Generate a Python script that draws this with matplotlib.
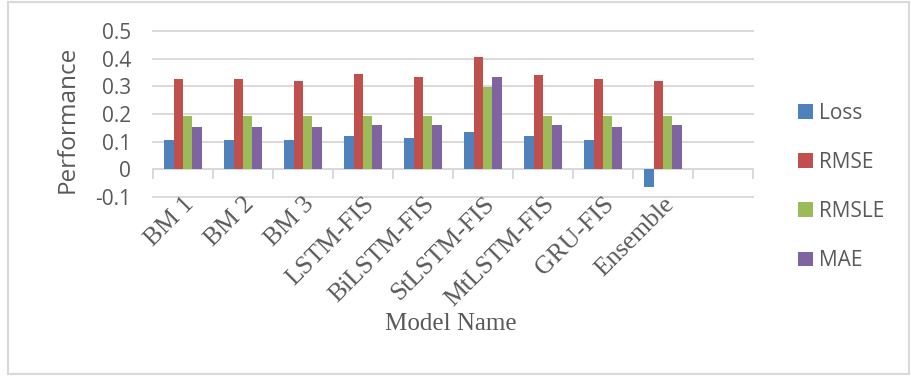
import numpy as np
import matplotlib
matplotlib.use("Agg")
import matplotlib.pyplot as plt
from matplotlib.patches import Rectangle

models = ["BM 1", "BM 2", "BM 3", "LSTM-FIS", "BiLSTM-FIS", "StLSTM-FIS",
          "MtLSTM-FIS", "GRU-FIS", "Ensemble"]
loss = [0.105, 0.105, 0.105, 0.120, 0.112, 0.136, 0.120, 0.105, -0.063]
rmse = [0.327, 0.327, 0.320, 0.343, 0.335, 0.407, 0.342, 0.327, 0.320]
rmsle = [0.192, 0.192, 0.192, 0.192, 0.192, 0.296, 0.192, 0.192, 0.192]
mae = [0.153, 0.153, 0.153, 0.160, 0.160, 0.335, 0.160, 0.153, 0.160]
series_names = ["Loss", "RMSE", "RMSLE", "MAE"]
colors = ["#4F81BD", "#C0504D", "#9BBB59", "#8064A2"]
yticks = [-0.1, 0, 0.1, 0.2, 0.3, 0.4, 0.5]
ytick_labels = ["-0.1", "0", "0.1", "0.2", "0.3", "0.4", "0.5"]

W, H = 911, 376
fig = plt.figure(figsize=(W / 100, H / 100), dpi=100)
fig.patch.set_facecolor("white")

# light frame around the whole chart
fig.add_artist(Rectangle((8 / W, 1 - 374 / H), (909 - 8) / W, (374 - 2) / H,
                         transform=fig.transFigure, fill=False,
                         edgecolor="#d9d9d9", linewidth=1.5))

left, right, top, bottom = 153, 753, 31, 197
ax = fig.add_axes([left / W, 1 - bottom / H, (right - left) / W, (bottom - top) / H])

sans = "Open Sans"
serif = "Liberation Serif"
grid_c = "#d9d9d9"
text_c = "#595959"

n = len(models)
x = np.arange(n)
bw = 0.157
for i, (vals, name, c) in enumerate(zip([loss, rmse, rmsle, mae], series_names, colors)):
    ax.bar(x + (i - 1.5) * bw, vals, width=bw, color=c, label=name, zorder=3)

ax.set_xlim(-0.5, n + 0.5)
ax.set_ylim(-0.1, 0.5)
ax.set_yticks(yticks)
ax.set_yticklabels(ytick_labels, fontfamily=sans, fontsize=15, color=text_c)
ax.tick_params(axis="y", length=0, pad=16)
for y in yticks:
    ax.axhline(y, color=grid_c, linewidth=1.4, zorder=1, clip_on=False)

for s in ["top", "right", "left"]:
    ax.spines[s].set_visible(False)
ax.spines["bottom"].set_position(("data", 0))
ax.spines["bottom"].set_color(grid_c)
ax.spines["bottom"].set_linewidth(1.4)
ax.spines["bottom"].set_zorder(2)

ax.set_xticks(x)
ax.set_xticklabels(models, rotation=45, ha="right", va="top",
                   rotation_mode="anchor", fontfamily=serif, fontsize=18.5,
                   color=text_c)
ax.tick_params(axis="x", which="major", length=0, pad=17)
ax.set_xticks(np.arange(-0.5, n + 1), minor=True)
ax.tick_params(axis="x", which="minor", length=7, width=1.4, color=grid_c,
               direction="out")

fig.text(68 / W, 1 - 119 / H, "Performance", fontfamily=sans, fontsize=17.5,
         color=text_c, rotation=90, ha="center", va="center")

fig.text(451 / W, 1 - 324 / H, "Model Name", fontfamily=serif, fontsize=18,
         color=text_c, ha="center", va="center")

fig.legend(loc="center left", bbox_to_anchor=(798 / W, 1 - 187 / H),
           frameon=False, prop={"family": sans, "size": 15},
           labelcolor=text_c, handlelength=0.7, handleheight=0.7,
           handletextpad=0.3, labelspacing=1.35, borderpad=0, borderaxespad=0)

fig.savefig("out.png", dpi=100)
